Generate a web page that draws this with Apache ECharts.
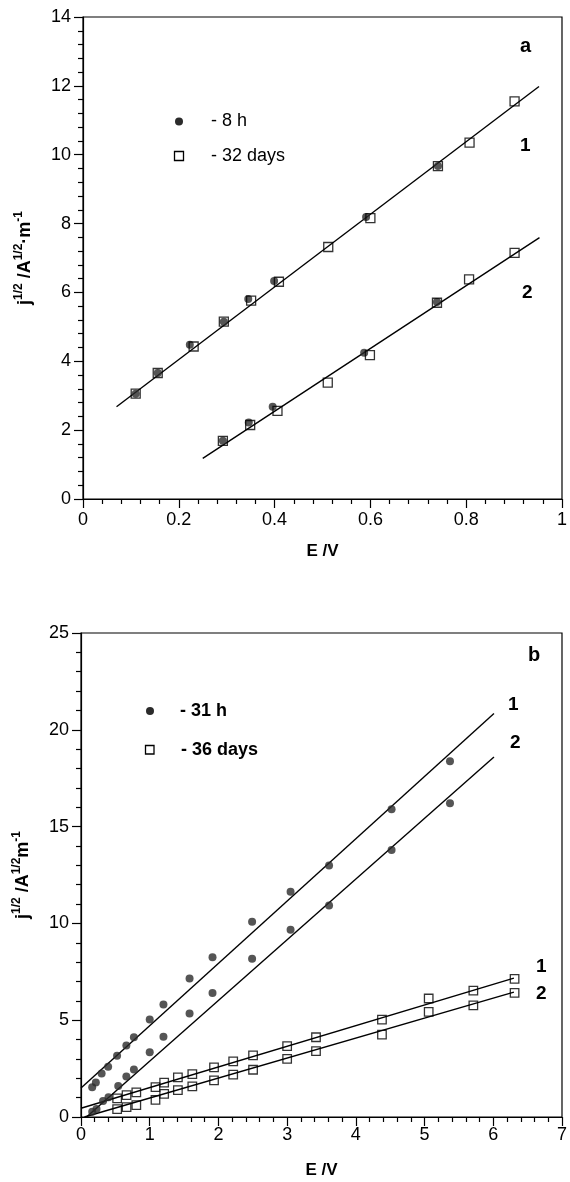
<!DOCTYPE html>
<html>
<head>
<meta charset="utf-8">
<script src="https://cdn.jsdelivr.net/npm/echarts@6/dist/echarts.min.js"></script>
<style>
  html, body { margin: 0; padding: 0; background: #fff; }
  #chart { width: 570px; height: 1182px; }
</style>
</head>
<body>
<div id="chart"></div>
<script>
// panel a: [E, j^1/2]
const a8hLine1 = [[0.110, 3.06], [0.156, 3.66], [0.223, 4.48], [0.294, 5.15], [0.345, 5.81], [0.399, 6.33], [0.591, 8.19], [0.741, 9.67]];
const a8hLine2 = [[0.292, 1.69], [0.346, 2.22], [0.396, 2.68], [0.587, 4.25], [0.739, 5.72]];
const a32dLine1 = [[0.110, 3.06], [0.156, 3.66], [0.231, 4.43], [0.294, 5.15], [0.351, 5.76], [0.409, 6.31], [0.512, 7.32], [0.600, 8.16], [0.741, 9.67], [0.807, 10.35], [0.901, 11.55]];
const a32dLine2 = [[0.292, 1.69], [0.349, 2.15], [0.406, 2.56], [0.511, 3.38], [0.599, 4.18], [0.739, 5.70], [0.806, 6.38], [0.901, 7.15]];
// straight lines of panel a (end points)
const aFit1 = [[0.07, 2.68], [0.952, 11.98]];
const aFit2 = [[0.25, 1.18], [0.953, 7.59]];

// panel b
const b31hLine1 = [[0.163, 1.54], [0.216, 1.78], [0.30, 2.25], [0.395, 2.59], [0.525, 3.17], [0.66, 3.69], [0.77, 4.12], [1.0, 5.03], [1.2, 5.81], [1.58, 7.15], [1.914, 8.25], [2.49, 10.08], [3.05, 11.64], [3.61, 12.99], [4.52, 15.90], [5.37, 18.38]];
const b31hLine2 = [[0.163, 0.27], [0.226, 0.41], [0.321, 0.82], [0.40, 1.02], [0.542, 1.60], [0.66, 2.09], [0.77, 2.45], [1.0, 3.35], [1.2, 4.15], [1.58, 5.34], [1.914, 6.41], [2.49, 8.18], [3.05, 9.67], [3.61, 10.92], [4.52, 13.79], [5.37, 16.21]];
const b36dLine1 = [[0.526, 0.96], [0.663, 1.13], [0.805, 1.27], [1.084, 1.54], [1.21, 1.78], [1.41, 2.05], [1.62, 2.21], [1.936, 2.56], [2.215, 2.87], [2.504, 3.18], [3.0, 3.66], [3.42, 4.12], [4.38, 5.03], [5.06, 6.12], [5.71, 6.53], [6.31, 7.13]];
const b36dLine2 = [[0.526, 0.41], [0.663, 0.51], [0.805, 0.61], [1.084, 0.88], [1.21, 1.19], [1.41, 1.39], [1.62, 1.58], [1.936, 1.89], [2.215, 2.19], [2.504, 2.44], [3.0, 3.0], [3.42, 3.40], [4.38, 4.26], [5.06, 5.43], [5.71, 5.77], [6.31, 6.41]];
const bFit31h1 = [[0, 1.50], [6.01, 20.84]];
const bFit31h2 = [[0.08, 0], [6.01, 18.6]];
const bFit36d1 = [[0, 0.45], [6.3, 7.17]];
const bFit36d2 = [[0.05, 0], [6.3, 6.45]];

const FONT = "'Liberation Sans', Arial, sans-serif";

function xAxisCfg(grid, max, interval, margin, gap) {
  return {
    type: "value",
    gridIndex: grid,
    min: 0,
    max: max,
    interval: interval,
    name: "E /V",
    nameLocation: "middle",
    nameGap: gap,
    nameTextStyle: { fontFamily: FONT, fontWeight: "bold", fontSize: 17, color: "#000" },
    axisLine: { lineStyle: { color: "#000", width: 1.2 } },
    axisTick: { length: 9, lineStyle: { color: "#000", width: 1.2 } },
    minorTick: { show: true, splitNumber: 5, length: 5, lineStyle: { color: "#000", width: 1.2 } },
    axisLabel: { margin: margin, fontFamily: FONT, fontSize: 18, color: "#000" },
    splitLine: { show: false },
  };
}

function yAxisCfg(grid, max, interval, name) {
  return {
    type: "value",
    gridIndex: grid,
    min: 0,
    max: max,
    interval: interval,
    name: name,
    nameLocation: "middle",
    nameRotate: 90,
    nameGap: 46,
    nameTextStyle: {
      fontFamily: FONT,
      fontWeight: "bold",
      color: "#000",
      rich: {
        b: { fontFamily: FONT, fontWeight: "bold", fontSize: 18, lineHeight: 24, color: "#000" },
        s: { fontFamily: FONT, fontWeight: "bold", fontSize: 12, lineHeight: 12, verticalAlign: "top", color: "#000" },
      },
    },
    axisLine: { lineStyle: { color: "#000", width: 1.2 } },
    axisTick: { length: 9, lineStyle: { color: "#000", width: 1.2 } },
    minorTick: { show: true, splitNumber: 5, length: 5, lineStyle: { color: "#000", width: 1.2 } },
    axisLabel: { margin: 12, fontFamily: FONT, fontSize: 18, color: "#000" },
    splitLine: { show: false },
  };
}

function dots(grid, data) {
  return {
    type: "scatter", xAxisIndex: grid, yAxisIndex: grid, data: data,
    symbol: "circle", symbolSize: 8, z: 3,
    itemStyle: { color: "#2b2b2b" },
    emphasis: { disabled: true },
  };
}
function squares(grid, data, size) {
  return {
    type: "scatter", xAxisIndex: grid, yAxisIndex: grid, data: data,
    symbol: "rect", symbolSize: size, z: 4,
    itemStyle: { color: "rgba(0,0,0,0)", borderColor: "#000", borderWidth: 1.3 },
    emphasis: { disabled: true },
  };
}
function fit(grid, data) {
  return {
    type: "line", xAxisIndex: grid, yAxisIndex: grid, data: data,
    symbol: "none", z: 2,
    lineStyle: { color: "#000", width: 1.4 },
    emphasis: { disabled: true },
  };
}
function txt(x, y, s, size, weight) {
  return {
    type: "text", x: x, y: y,
    style: { text: s, fontFamily: FONT, fontSize: size, fontWeight: weight, fill: "#000", textVerticalAlign: "middle" },
  };
}

const chart = echarts.init(document.getElementById("chart"));
chart.setOption({
  animation: false,
  backgroundColor: "#fff",
  grid: [
    { left: 83, top: 17, width: 483, height: 482, show: true, borderColor: "#000", borderWidth: 1.2 },
    { left: 81, top: 633, width: 485, height: 484, show: true, borderColor: "#000", borderWidth: 1.2 },
  ],
  xAxis: [xAxisCfg(0, 1, 0.2, 12, 44), xAxisCfg(1, 7, 1, 9, 45)],
  yAxis: [
    yAxisCfg(0, 14, 2, "{b|j}{s|1/2}{b| /A}{s|1/2}{b|·m}{s|-1}"),
    yAxisCfg(1, 25, 5, "{b|j}{s|1/2}{b| /A}{s|1/2}{b|m}{s|-1}"),
  ],
  series: [
    fit(0, aFit1), fit(0, aFit2),
    dots(0, a8hLine1), dots(0, a8hLine2),
    squares(0, a32dLine1, 9), squares(0, a32dLine2, 9),
    fit(1, bFit31h1), fit(1, bFit31h2), fit(1, bFit36d1), fit(1, bFit36d2),
    dots(1, b31hLine1), dots(1, b31hLine2),
    squares(1, b36dLine1, 8.5), squares(1, b36dLine2, 8.5),
  ],
  graphic: [
    // legend a
    { type: "circle", shape: { cx: 179, cy: 121.5, r: 4 }, style: { fill: "#2b2b2b" } },
    { type: "rect", shape: { x: 174.5, y: 151.5, width: 9, height: 9 }, style: { fill: "none", stroke: "#000", lineWidth: 1.3 } },
    txt(211, 121.5, "- 8 h", 18, "normal"),
    txt(211, 156, "- 32 days", 18, "normal"),
    txt(520, 46, "a", 20, "bold"),
    txt(520, 146, "1", 19, "bold"),
    txt(522, 293, "2", 19, "bold"),
    // legend b
    { type: "circle", shape: { cx: 150, cy: 711, r: 4 }, style: { fill: "#2b2b2b" } },
    { type: "rect", shape: { x: 145.5, y: 745.5, width: 8.5, height: 8.5 }, style: { fill: "none", stroke: "#000", lineWidth: 1.3 } },
    txt(180, 711, "- 31 h", 18, "bold"),
    txt(181, 750, "- 36 days", 18, "bold"),
    txt(528, 655, "b", 20, "bold"),
    txt(508, 705, "1", 19, "bold"),
    txt(510, 743, "2", 19, "bold"),
    txt(536, 967, "1", 19, "bold"),
    txt(536, 994, "2", 19, "bold"),
  ],
});
</script>
</body>
</html>
